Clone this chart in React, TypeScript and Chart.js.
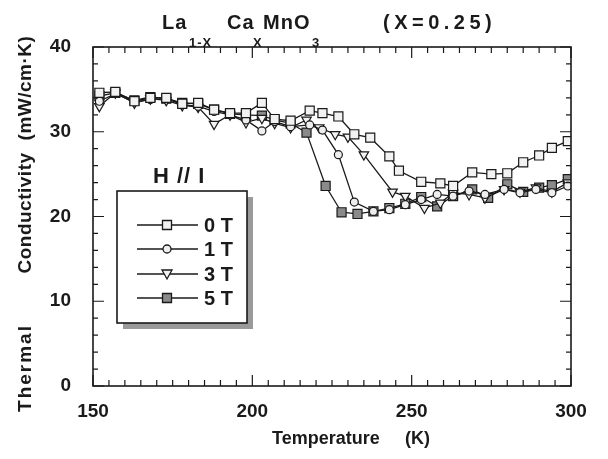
import React, { useEffect, useRef } from "react";
import { Chart, registerables } from "chart.js";

Chart.register(...registerables);

// ---- Data ----
const X_TICKS = [150, 200, 250, 300];
const Y_TICKS = [0, 10, 20, 30, 40];
const SERIES_LABELS = ["0 T", "1 T", "3 T", "5 T"];
const LEGEND_HEADER = "H // I";

const t0 = [152, 157, 163, 168, 173, 178, 183, 188, 193, 198, 203, 207, 212, 218, 222, 227, 232, 237, 243, 246, 253, 259, 263, 269, 275, 280, 285, 290, 294, 299];
const k0 = [34.6, 34.7, 33.6, 34.0, 34.0, 33.3, 33.4, 32.6, 32.2, 32.2, 33.4, 31.5, 31.3, 32.5, 32.2, 31.8, 29.7, 29.3, 27.1, 25.4, 24.1, 23.9, 23.6, 25.2, 25.0, 25.1, 26.4, 27.2, 28.1, 28.9];

const t1 = [152, 157, 163, 168, 173, 178, 183, 188, 193, 198, 203, 207, 212, 218, 222, 227, 232, 238, 243, 248, 253, 258, 263, 268, 273, 279, 284, 289, 294, 299];
const k1 = [33.6, 34.5, 33.5, 33.8, 33.9, 33.2, 33.0, 32.4, 32.0, 31.4, 30.1, 31.2, 30.6, 30.8, 30.2, 27.3, 21.7, 20.6, 20.8, 21.4, 22.0, 22.6, 22.4, 23.0, 22.6, 23.2, 22.8, 23.2, 22.8, 23.6];

const t3 = [152, 157, 163, 168, 173, 178, 183, 188, 193, 198, 203, 207, 212, 217, 221, 226, 230, 235, 244, 248, 254, 259, 263, 268, 273, 279, 284, 289, 294, 299];
const k3 = [33.0, 34.6, 33.4, 33.9, 33.7, 33.1, 32.9, 30.9, 32.0, 31.1, 31.6, 31.0, 30.5, 31.4, 30.5, 29.7, 29.4, 27.3, 22.9, 22.4, 21.0, 21.6, 22.8, 22.6, 22.2, 23.2, 22.9, 23.4, 22.9, 24.0];

const t5 = [152, 157, 163, 168, 173, 178, 183, 188, 193, 198, 203, 207, 212, 217, 223, 228, 233, 238, 243, 248, 253, 258, 263, 269, 274, 280, 285, 290, 294, 299];
const k5 = [34.2, 34.6, 33.7, 34.1, 33.9, 33.4, 33.3, 32.6, 32.1, 32.0, 31.9, 31.4, 31.0, 29.9, 23.6, 20.5, 20.3, 20.6, 21.0, 21.5, 22.3, 21.2, 22.4, 23.2, 22.2, 23.8, 22.9, 23.4, 23.7, 24.4];

const FONT = '"Liberation Sans", Arial, Helvetica, sans-serif';
const INK = "#1a1a1a";

const toPoints = (xs: number[], ys: number[]) => xs.map((x, i) => ({ x, y: ys[i] }));

type MarkerKind = "rect" | "circle" | "tri" | "rectDark";
const MARKERS: MarkerKind[] = ["rect", "circle", "tri", "rectDark"];

function drawMarker(ctx: CanvasRenderingContext2D, kind: MarkerKind, x: number, y: number) {
  ctx.save();
  ctx.lineWidth = 1.3;
  ctx.strokeStyle = INK;
  ctx.beginPath();
  if (kind === "rect" || kind === "rectDark") {
    ctx.rect(x - 4.5, y - 4.5, 9, 9);
    ctx.fillStyle = kind === "rect" ? "#f2f2f2" : "#8a8a8a";
  } else if (kind === "circle") {
    ctx.arc(x, y, 4, 0, Math.PI * 2);
    ctx.fillStyle = "#eeeeee";
  } else {
    ctx.moveTo(x - 5, y - 4);
    ctx.lineTo(x + 5, y - 4);
    ctx.lineTo(x, y + 5);
    ctx.closePath();
    ctx.fillStyle = "#f2f2f2";
  }
  ctx.fill();
  ctx.stroke();
  ctx.restore();
}

const decorPlugin = {
  id: "decor",
  afterDraw(chart: any) {
    const ctx: CanvasRenderingContext2D = chart.ctx;
    const { left, right, top, bottom } = chart.chartArea;
    const xs = chart.scales.x;
    const ys = chart.scales.y;
    ctx.save();

    // frame
    ctx.strokeStyle = INK;
    ctx.lineWidth = 1.6;
    ctx.strokeRect(left, top, right - left, bottom - top);

    // inward ticks
    ctx.lineWidth = 1.2;
    ctx.beginPath();
    for (let v = xs.min; v <= xs.max + 1e-9; v += 5) {
      const px = xs.getPixelForValue(v);
      const len = v % 50 === 0 ? 11 : 6;
      ctx.moveTo(px, bottom);
      ctx.lineTo(px, bottom - len);
      ctx.moveTo(px, top);
      ctx.lineTo(px, top + len);
    }
    for (let v = ys.min; v <= ys.max + 1e-9; v += 2) {
      const py = ys.getPixelForValue(v);
      const len = v % 10 === 0 ? 11 : 5;
      ctx.moveTo(left, py);
      ctx.lineTo(left + len, py);
      ctx.moveTo(right, py);
      ctx.lineTo(right - len, py);
    }
    ctx.stroke();

    ctx.fillStyle = INK;
    ctx.textBaseline = "alphabetic";
    ctx.textAlign = "left";

    // title with subscripts
    const big = `bold 20px ${FONT}`;
    const small = `bold 13px ${FONT}`;
    (ctx as any).letterSpacing = "1px";
    ctx.font = big;
    ctx.fillText("La", 162, 29);
    ctx.fillText("Ca", 227, 29);
    ctx.fillText("MnO", 263, 29);
    ctx.font = small;
    ctx.fillText("1-X", 189, 47);
    ctx.fillText("X", 253, 47);
    ctx.fillText("3", 312, 47);
    (ctx as any).letterSpacing = "4.5px";
    ctx.font = big;
    ctx.fillText("(X=0.25)", 383, 29);

    // x axis title
    (ctx as any).letterSpacing = "0px";
    ctx.font = `bold 18px ${FONT}`;
    ctx.fillText("Temperature", 272, 444);
    ctx.fillText("(K)", 405, 444);

    // y axis title (rotated)
    ctx.save();
    ctx.translate(26, 0);
    ctx.rotate(-Math.PI / 2);
    ctx.textAlign = "center";
    ctx.textBaseline = "middle";
    ctx.font = `bold 19px ${FONT}`;
    (ctx as any).letterSpacing = "2px";
    ctx.fillText("Thermal", -368, 0);
    (ctx as any).letterSpacing = "0.5px";
    ctx.fillText("Conductivity", -213, 0);
    ctx.fillText("(mW/cm\u00B7K)", -88, 0);
    ctx.restore();

    // legend header
    (ctx as any).letterSpacing = "1px";
    ctx.font = `bold 22px ${FONT}`;
    ctx.textAlign = "left";
    ctx.textBaseline = "alphabetic";
    ctx.fillText(LEGEND_HEADER, 153, 183);

    // legend box with shadow
    const bx = 117, by = 191, bw = 130, bh = 132;
    ctx.fillStyle = "#9a9a9a";
    ctx.fillRect(bx + 6, by + bh, bw, 6);
    ctx.fillRect(bx + bw, by + 6, 6, bh);
    ctx.fillStyle = "#ffffff";
    ctx.fillRect(bx, by, bw, bh);
    ctx.strokeStyle = INK;
    ctx.lineWidth = 1.6;
    ctx.strokeRect(bx, by, bw, bh);

    const rows = [225, 249, 274, 298];
    ctx.font = `bold 20px ${FONT}`;
    (ctx as any).letterSpacing = "0px";
    ctx.textBaseline = "middle";
    SERIES_LABELS.forEach((lab, i) => {
      const y = rows[i];
      ctx.strokeStyle = INK;
      ctx.lineWidth = 1.3;
      ctx.beginPath();
      ctx.moveTo(137, y);
      ctx.lineTo(198, y);
      ctx.stroke();
      drawMarker(ctx, MARKERS[i], 167, y);
      ctx.fillStyle = INK;
      ctx.fillText(lab, 204, y + 1);
    });

    ctx.restore();
  },
};

export default function App() {
  const ref = useRef<HTMLCanvasElement | null>(null);

  useEffect(() => {
    if (!ref.current) return;
    const common = {
      showLine: true,
      borderColor: INK,
      borderWidth: 1.3,
      pointBorderColor: INK,
      pointBorderWidth: 1.2,
    };
    const chart = new Chart(ref.current, {
      type: "scatter",
      data: {
        datasets: [
          { ...common, label: SERIES_LABELS[0], data: toPoints(t0, k0), pointStyle: "rect", pointRadius: 6.4, pointBackgroundColor: "#f2f2f2" },
          { ...common, label: SERIES_LABELS[1], data: toPoints(t1, k1), pointStyle: "circle", pointRadius: 4, pointBackgroundColor: "#eeeeee" },
          { ...common, label: SERIES_LABELS[2], data: toPoints(t3, k3), pointStyle: "triangle", pointRotation: 180, pointRadius: 5.5, pointBackgroundColor: "#f2f2f2" },
          { ...common, label: SERIES_LABELS[3], data: toPoints(t5, k5), pointStyle: "rect", pointRadius: 6.4, pointBackgroundColor: "#8a8a8a" },
        ],
      },
      options: {
        animation: false,
        responsive: false,
        maintainAspectRatio: false,
        layout: { padding: { left: 0, right: 37, top: 47, bottom: 0 } },
        plugins: { legend: { display: false }, title: { display: false }, tooltip: { enabled: false } },
        scales: {
          x: {
            type: "linear",
            min: 150,
            max: 300,
            afterBuildTicks: (s: any) => { s.ticks = X_TICKS.map((v) => ({ value: v })); },
            afterFit: (s: any) => { s.height = 73; },
            grid: { display: false, drawTicks: false },
            border: { display: false },
            ticks: { color: INK, font: { family: FONT, size: 19, weight: "bold" }, padding: 14, maxRotation: 0 },
          },
          y: {
            type: "linear",
            min: 0,
            max: 40,
            afterBuildTicks: (s: any) => { s.ticks = Y_TICKS.map((v) => ({ value: v })); },
            afterFit: (s: any) => { s.width = 93; },
            grid: { display: false, drawTicks: false },
            border: { display: false },
            ticks: { color: INK, font: { family: FONT, size: 19, weight: "bold" }, padding: 22 },
          },
        },
      } as any,
      plugins: [decorPlugin],
    });
    return () => chart.destroy();
  }, []);

  return (
    <div style={{ position: "absolute", left: 0, top: 0, width: 608, height: 459, background: "#fff" }}>
      <canvas ref={ref} width={608} height={459} style={{ display: "block" }} />
    </div>
  );
}
